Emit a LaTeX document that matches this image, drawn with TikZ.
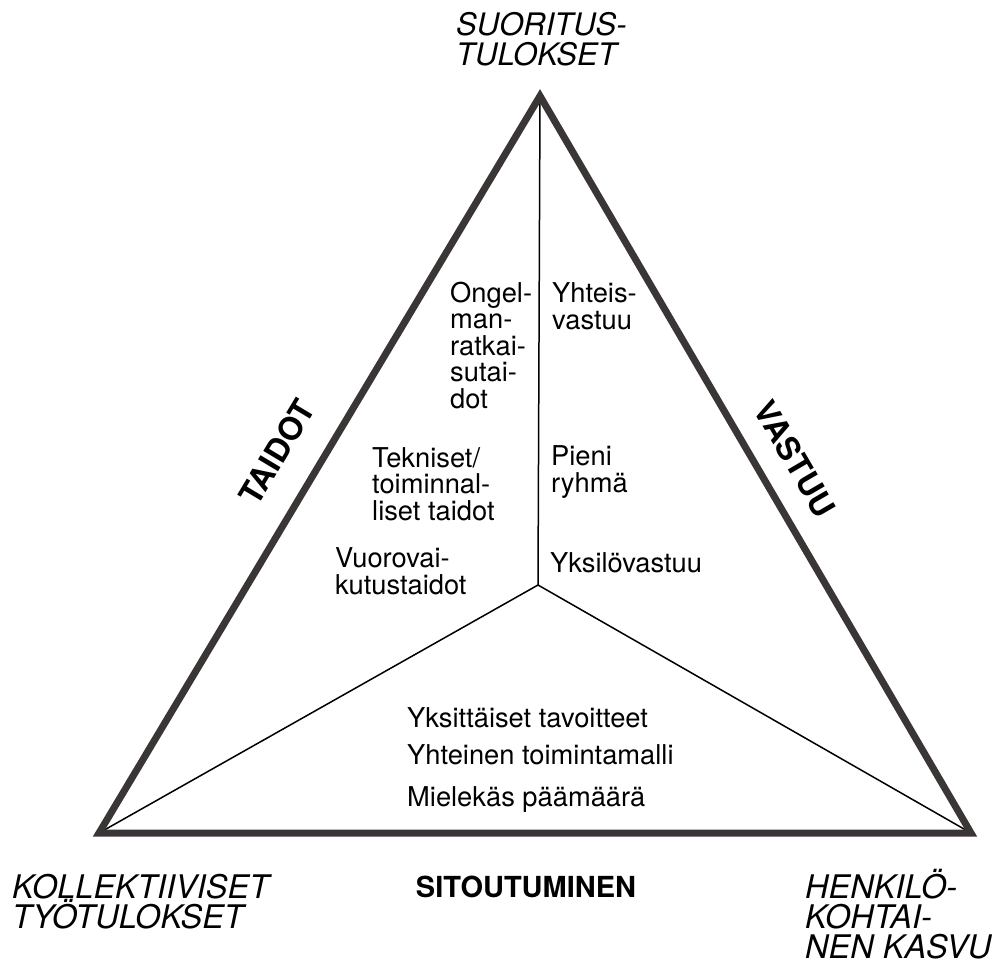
\documentclass[tikz,border=0pt]{standalone}
\usepackage{fontspec}
\setmainfont{TeX Gyre Heros}
\definecolor{edgegray}{HTML}{3A3636}
\begin{document}
\begin{tikzpicture}[x=1pt,y=-1pt,
  inner/.style={anchor=base west,inner sep=0pt,align=left,font=\fontsize{27.3}{26.5}\selectfont},
  corner/.style={anchor=base west,inner sep=0pt,align=left,font=\fontsize{31}{30}\selectfont\itshape},
  bcorner/.style={corner,font=\fontsize{32.5}{30}\selectfont\itshape},
  side/.style={inner sep=0pt,font=\fontsize{29}{30}\selectfont\bfseries},
  rside/.style={side,font=\fontsize{32}{30}\selectfont\bfseries},
  thin/.style={draw=black,line width=1.5pt},
  frame/.style={draw=edgegray,line width=7pt,line join=miter}]
\useasboundingbox (0,0) rectangle (998,969);
\coordinate (A) at (540,96);
\coordinate (L) at (99,833);
\coordinate (R) at (971,833);
\coordinate (C) at (538,585);
\draw[thin] (A) -- (C);
\draw[thin] (C) -- (L);
\draw[thin] (C) -- (R);
\draw[frame] (A) -- (L) -- (R) -- cycle;
% corner labels (anchor = baseline of last line)
\node[corner] (top) at (456,65) {SUORITUS-\\TULOKSET};
\node[bcorner] (kol) at (12,928) {KOLLEKTIIVISET\\TYÖTULOKSET};
\node[bcorner] (hen) at (805,958) {HENKILÖ-\\KOHTAI-\\NEN KASVU};
% side labels
\node[rside,rotate=59.1] (taidot) at (277,452) {TAIDOT};
\node[rside,rotate=-59.7] (vastuu) at (795,459) {VASTUU};
\node[side] (sit) at (526,887) {SITOUTUMINEN};
% inner texts
\node[inner] (ong) at (450,408) {Ongel-\\man-\\ratkai-\\sutai-\\dot};
\node[inner] (tek) at (372,520) {Tekniset/\\toiminnal-\\liset taidot};
\node[inner] (vuo) at (335,594) {Vuorovai-\\kutustaidot};
\node[inner] (yht) at (552,329) {Yhteis-\\vastuu};
\node[inner] (pie) at (551,492) {Pieni\\ryhmä};
\node[inner] (yks) at (550,572) {Yksilövastuu};
\node[inner] (t1) at (407,727) {Yksittäiset tavoitteet};
\node[inner] (t2) at (407,764) {Yhteinen toimintamalli};
\node[inner] (t3) at (407,806) {Mielekäs päämäärä};
\end{tikzpicture}
\end{document}
